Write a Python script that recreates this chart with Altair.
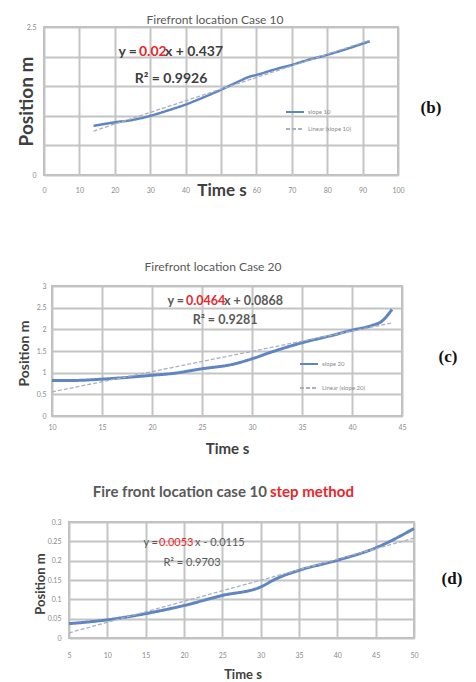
import altair as alt
import pandas as pd

# ---------------- data ----------------
b_time = [14, 20, 25, 30, 35, 40, 45, 50, 55, 58, 60, 65, 70, 75, 80, 85, 92]
b_pos = [0.83, 0.89, 0.93, 1.00, 1.09, 1.19, 1.31, 1.44, 1.58, 1.66, 1.69, 1.78, 1.86, 1.95, 2.03, 2.12, 2.26]
b_xticks = [0, 10, 20, 30, 40, 50, 60, 70, 80, 90, 100]
b_yticks = [0, 0.5, 1, 1.5, 2, 2.5]

c_time = [10, 12, 15, 18, 20, 22, 25, 28, 30, 32, 35, 38, 40, 42, 43, 44]
c_pos = [0.82, 0.82, 0.85, 0.90, 0.94, 0.98, 1.09, 1.19, 1.32, 1.48, 1.69, 1.86, 1.98, 2.09, 2.19, 2.46]
c_xticks = [10, 15, 20, 25, 30, 35, 40, 45]
c_yticks = [0, 0.5, 1, 1.5, 2, 2.5, 3]

d_time = [5, 10, 15, 20, 25, 30, 32, 35, 40, 45, 50]
d_pos = [0.037, 0.047, 0.063, 0.084, 0.110, 0.132, 0.153, 0.175, 0.201, 0.233, 0.283]
d_xticks = [5, 10, 15, 20, 25, 30, 35, 40, 45, 50]
d_yticks = [0, 0.05, 0.1, 0.15, 0.2, 0.25, 0.3]

series_names = ["slope 10", "slope 20", "slope 10 step"]
titles_bc = ["Firefront location Case 10", "Firefront location Case 20"]
title_d = ["Fire front location case 10 ", "step method"]
eq_b = ["y = ", "0.02", "x + 0.437", "R\u00b2 = 0.9926"]
eq_c = ["y = ", "0.0464", "x + 0.0868", "R\u00b2 = 0.9281"]
eq_d = ["y = ", "0.0053", "x - 0.0115", "R\u00b2 = 0.9703"]
panel_tags = ["(b)", "(c)", "(d)"]

# ---------------- style ----------------
GRID = "#c4c4c4"
BLUE = "#5f86c0"
TREND = "#a9b1c0"
AX_TXT = "#8a8a8a"
DARK = "#404040"
MID = "#595959"
RED = "#e8262b"
FONT = "Lato"


def txt(text, x, y, size, color, align="center", weight="normal", font=FONT):
    return alt.Chart(pd.DataFrame({"k": [0]})).mark_text(
        text=text, fontSize=size, color=color, align=align, baseline="middle",
        fontWeight=weight, font=font
    ).encode(x=alt.value(x), y=alt.value(y))


def panel(time, pos, name, xticks, yticks, xt, yt, lab_pad, legend, hide_x=(), hide_y=(),
          line_w=2.5):
    df = pd.DataFrame({"t": time, "pos": pos, "series": name})
    lin = "Linear (" + name + ")"
    dom = [name, lin]
    hx = " || ".join(["datum.value == %s" % v for v in hide_x]) or "false"
    hy = " || ".join(["datum.value == %s" % v for v in hide_y]) or "false"
    xaxis = alt.Axis(values=xticks, title="Time s", titleFont=FONT, titleFontSize=xt[2],
                     titleFontWeight="bold", titleColor=DARK, titleX=xt[0], titleY=xt[1],
                     titleAlign="center", titleBaseline="middle", labelFont=FONT, labelFontSize=7,
                     labelColor=AX_TXT, labelPadding=lab_pad[0], ticks=False, domain=False,
                     gridColor=GRID, gridWidth=2, format="~r", labelFlush=False, labelOverlap=False,
                     labelExpr="(%s) ? '' : datum.label" % hx)
    yaxis = alt.Axis(values=yticks, title="Position m", titleFont=FONT, titleFontSize=yt[2],
                     titleFontWeight="bold", titleColor=DARK, titleX=yt[0], titleY=yt[1],
                     titleAngle=270, titleAlign="center", titleBaseline="middle", labelFont=FONT,
                     labelFontSize=7, labelColor=AX_TXT, labelPadding=lab_pad[1], ticks=False,
                     domain=False, gridColor=GRID, gridWidth=2, format="~r", labelOverlap=False,
                     labelExpr="(%s) ? '' : datum.label" % hy)
    x = alt.X("t:Q", scale=alt.Scale(domain=[xticks[0], xticks[-1]], nice=False, zero=False), axis=xaxis)
    y = alt.Y("pos:Q", scale=alt.Scale(domain=[yticks[0], yticks[-1]], nice=False), axis=yaxis)
    if legend is None:
        leg = None
    else:
        leg = alt.Legend(orient="none", legendX=legend[0], legendY=legend[1], title=None,
                         labelFontSize=6, labelColor=AX_TXT, labelFont=FONT, symbolType="stroke",
                         symbolSize=324, symbolStrokeWidth=2, rowPadding=legend[2], labelOffset=3)
    color = alt.Color("series:N", scale=alt.Scale(domain=dom, range=[BLUE, TREND]), legend=leg)
    dash = alt.StrokeDash("series:N", scale=alt.Scale(domain=dom, range=[[1, 0], [4, 2]]), legend=leg)
    base = alt.Chart(df)
    line = base.mark_line(strokeWidth=line_w, interpolate="monotone").encode(
        x=x, y=y, color=color, strokeDash=dash)
    trend = base.transform_regression("t", "pos").transform_calculate(
        series="'%s'" % lin).mark_line(strokeWidth=1.3).encode(
        x=x, y=y, color=color, strokeDash=dash)
    return line, trend


def hsp(w):
    return alt.Chart(pd.DataFrame({"k": [0]})).mark_text(text="").encode(
        x=alt.value(0), y=alt.value(0)).properties(width=w, height=1)


def vsp(h):
    return alt.Chart(pd.DataFrame({"k": [0]})).mark_text(text="").encode(
        x=alt.value(0), y=alt.value(h / 2)).properties(width=1, height=h)


def indep(c):
    return c.resolve_scale(color="independent", strokeDash="independent").resolve_legend(
        color="independent", strokeDash="independent")


VIEW = alt.ViewBackground(stroke="#bdbdbd", strokeWidth=2)

# ---- panel (b)
lb, tb = panel(b_time, b_pos, series_names[0], b_xticks, b_yticks,
               (177.5, 15.5, 17), (-18, 74, 19), (11, 8), (241, 75, 3),
               hide_x=(50,), hide_y=(0.5, 1, 1.5, 2))
pb = alt.layer(
    lb, tb,
    txt(titles_bc[0], 171, -7, 12, MID),
    txt(eq_b[0], 93, 25, 14, DARK, "right", "bold"),
    txt(eq_b[1], 95, 25, 14, RED, "left", "bold"),
    txt(eq_b[2], 121, 25, 14, DARK, "left", "bold"),
    txt(eq_b[3], 127, 52, 14, DARK, "center", "bold"),
    txt(panel_tags[0], 387, 81, 17, "#111111", "center", "bold", "Liberation Serif"),
).properties(width=354, height=148, view=VIEW)

# ---- panel (c)
lc, tc = panel(c_time, c_pos, series_names[1], c_xticks, c_yticks,
               (175, 32, 15), (-28, 67, 14), (7, 6), (247, 68, 10), line_w=3)
pc = alt.layer(
    lc, tc,
    txt(titles_bc[1], 161, -19, 12, MID),
    txt(eq_c[0], 132, 15, 12.5, MID, "right", "bold"),
    txt(eq_c[1], 134, 15, 12.5, RED, "left", "bold"),
    txt(eq_c[2], 172, 15, 12.5, MID, "left", "bold"),
    txt(eq_c[3], 173, 34, 12.5, MID, "center", "bold"),
    txt(panel_tags[1], 396, 71, 17, "#111111", "center", "bold", "Liberation Serif"),
).properties(width=350, height=130, view=VIEW)

# ---- panel (d)
ld, td = panel(d_time, d_pos, series_names[2], d_xticks, d_yticks,
               (173.5, 36.5, 13), (-29, 61.5, 13), (13, 8), None, line_w=3)
pd_ = alt.layer(
    ld, td,
    txt(title_d[0], 198, -30, 15, MID, "right", "bold"),
    txt(title_d[1], 201, -30, 15, RED, "left", "bold"),
    txt(eq_d[0], 89, 21, 11, MID, "right"),
    txt(eq_d[1], 90, 21, 11, RED, "left"),
    txt(eq_d[2], 126, 21, 11, MID, "left"),
    txt(eq_d[3], 123, 41, 11, MID, "center"),
    txt(panel_tags[2], 383, 57, 17, "#111111", "center", "bold", "Liberation Serif"),
).properties(width=345, height=116, view=VIEW)

row_b = indep(alt.hconcat(hsp(7.5), pb, spacing=0))
row_c = indep(alt.hconcat(hsp(8), pc, spacing=0))
row_d = indep(alt.hconcat(hsp(24.5), pd_, spacing=0))

chart = indep(alt.vconcat(row_b, vsp(60), row_c, vsp(27), row_d, spacing=0)).properties(
    padding={"left": 0, "top": 5, "right": 0, "bottom": 0}
).configure_view(strokeWidth=0)

chart.save("out.html", embed_options={"renderer": "svg", "actions": False})
